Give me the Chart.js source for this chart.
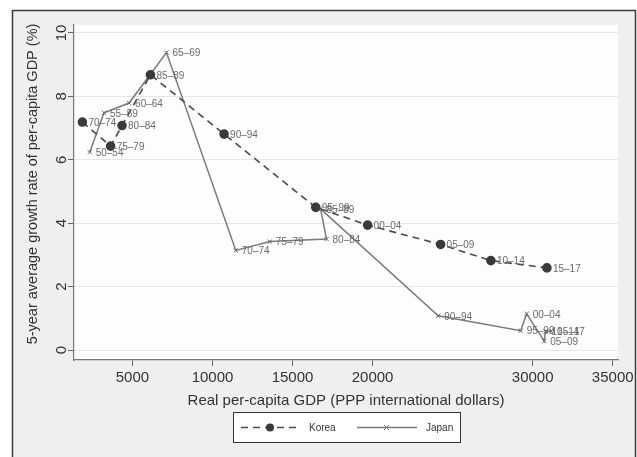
<!DOCTYPE html>
<html>
<head>
<meta charset="utf-8">
<script src="https://cdn.jsdelivr.net/npm/chart.js@4.4.1/dist/chart.umd.min.js"></script>
<style>
  html, body { margin: 0; padding: 0; background: #fff; }
  #wrap { width: 637px; height: 457px; position: relative; }
</style>
</head>
<body>
<div id="wrap"><canvas id="chart"></canvas></div>
<script>
// Korea: 5-year periods, real per-capita GDP, growth rate
const koreaPeriods = ["70–74", "75–79", "80–84", "85–89", "90–94", "95–99", "00–04", "05–09", "10–14", "15–17"];
const koreaGdp = [1875, 3640, 4350, 6125, 10725, 16450, 19690, 24250, 27390, 30890];
const koreaGrowth = [7.19, 6.43, 7.08, 8.68, 6.81, 4.50, 3.94, 3.33, 2.82, 2.59];

// Japan
const japanPeriods = ["50–54", "55–59", "60–64", "65–69", "70–74", "75–79", "80–84", "85–89", "90–94", "95–99", "00–04", "05–09", "10–14", "15–17"];
const japanGdp = [2330, 3225, 4790, 7125, 11455, 13580, 17125, 16750, 24100, 29250, 29625, 30725, 30800, 31150];
const japanGrowth = [6.24, 7.48, 7.79, 9.38, 3.14, 3.42, 3.50, 4.45, 1.08, 0.61, 1.14, 0.28, 0.59, 0.59];

// tick labels
const xTicks = [5000, 10000, 15000, 20000, 30000, 35000];
const yTicks = [0, 2, 4, 6, 8, 10];

const yTitle = "5-year average growth rate of per-capita GDP (%)";
const xTitle = "Real per-capita GDP (PPP international dollars)";

const FONT = "'Liberation Sans', Arial, Helvetica, sans-serif";

function toPoints(xs, ys) {
  return xs.map((x, i) => ({ x: x, y: ys[i] }));
}

// frame + plot background, like the stata graph region
const backgroundPlugin = {
  id: "background",
  beforeDraw(chart) {
    const ctx = chart.ctx;
    const a = chart.chartArea;
    ctx.save();
    ctx.fillStyle = "#ffffff";
    ctx.fillRect(0, 0, chart.width, chart.height);
    ctx.fillStyle = "#efefef";
    ctx.fillRect(12, 10, 624, chart.height);
    ctx.strokeStyle = "#3a3a3a";
    ctx.lineWidth = 1.5;
    ctx.strokeRect(12.5, 10.5, 623, chart.height + 10);
    ctx.fillStyle = "#fdfdfd";
    ctx.fillRect(a.left, a.top, a.right - a.left, a.bottom - a.top);
    ctx.restore();
  }
};

// period labels next to each marker
const pointLabelPlugin = {
  id: "pointLabels",
  afterDatasetsDraw(chart) {
    const ctx = chart.ctx;
    ctx.save();
    ctx.font = "10px " + FONT;
    ctx.fillStyle = "#6a6a6a";
    ctx.textAlign = "left";
    ctx.textBaseline = "middle";
    chart.data.datasets.forEach((ds, i) => {
      const meta = chart.getDatasetMeta(i);
      meta.data.forEach((pt, j) => {
        ctx.fillText(ds.periods[j], pt.x + 6, pt.y + 1);
      });
    });
    ctx.restore();
  }
};

// rotated y tick labels and y title (stata style)
const yAxisTextPlugin = {
  id: "yAxisText",
  afterDraw(chart) {
    const ctx = chart.ctx;
    const y = chart.scales.y;
    ctx.save();
    ctx.fillStyle = "#333";
    ctx.textAlign = "center";
    ctx.textBaseline = "middle";
    ctx.font = "15px " + FONT;
    yTicks.forEach(v => {
      ctx.save();
      ctx.translate(y.right - 12, y.getPixelForValue(v));
      ctx.rotate(-Math.PI / 2);
      ctx.fillText(String(v), 0, 0);
      ctx.restore();
    });
    ctx.font = "14.5px " + FONT;
    ctx.translate(33, 184);
    ctx.rotate(-Math.PI / 2);
    ctx.fillText(yTitle, 0, 0);
    ctx.restore();
  }
};

// boxed legend under the axis title
const legendPlugin = {
  id: "boxLegend",
  afterDraw(chart) {
    const ctx = chart.ctx;
    const bx = 233.5, by = 412.5, bw = 227, bh = 30;
    const cy = by + bh / 2;
    ctx.save();
    ctx.fillStyle = "#ffffff";
    ctx.fillRect(bx, by, bw, bh);
    ctx.strokeStyle = "#333";
    ctx.lineWidth = 1;
    ctx.strokeRect(bx, by, bw, bh);

    // Korea sample
    const k = chart.data.datasets[0];
    ctx.strokeStyle = k.borderColor;
    ctx.lineWidth = k.borderWidth;
    ctx.setLineDash(k.borderDash);
    ctx.beginPath();
    ctx.moveTo(241, cy);
    ctx.lineTo(300, cy);
    ctx.stroke();
    ctx.setLineDash([]);
    ctx.fillStyle = k.pointBackgroundColor;
    ctx.beginPath();
    ctx.arc(270, cy, 4, 0, Math.PI * 2);
    ctx.fill();

    // Japan sample
    const j = chart.data.datasets[1];
    ctx.strokeStyle = j.borderColor;
    ctx.lineWidth = j.borderWidth;
    ctx.beginPath();
    ctx.moveTo(357, cy);
    ctx.lineTo(417, cy);
    ctx.stroke();
    ctx.lineWidth = 1;
    ctx.beginPath();
    ctx.moveTo(384, cy - 2.5); ctx.lineTo(389, cy + 2.5);
    ctx.moveTo(389, cy - 2.5); ctx.lineTo(384, cy + 2.5);
    ctx.stroke();

    ctx.font = "10px " + FONT;
    ctx.fillStyle = "#333";
    ctx.textBaseline = "middle";
    ctx.textAlign = "left";
    ctx.fillText("Korea", 309, cy + 1);
    ctx.fillText("Japan", 426, cy + 1);
    ctx.restore();
  }
};

const ctx = document.getElementById("chart").getContext("2d");
new Chart(ctx, {
  type: "scatter",
  data: {
    datasets: [
      {
        label: "Korea",
        periods: koreaPeriods,
        data: toPoints(koreaGdp, koreaGrowth),
        showLine: true,
        borderColor: "#4a4a4a",
        borderWidth: 1.6,
        borderDash: [7, 5],
        pointStyle: "circle",
        pointRadius: 4,
        pointBackgroundColor: "#3a3a3a",
        pointBorderColor: "#3a3a3a",
        order: 1
      },
      {
        label: "Japan",
        periods: japanPeriods,
        data: toPoints(japanGdp, japanGrowth),
        showLine: true,
        borderColor: "#7a7a7a",
        borderWidth: 1.5,
        pointStyle: "crossRot",
        pointRadius: 3,
        pointBorderColor: "#666",
        pointBorderWidth: 1,
        order: 2
      }
    ]
  },
  options: {
    responsive: true,
    maintainAspectRatio: false,
    animation: false,
    layout: { padding: { left: 14, top: 25, right: 19, bottom: 47 } },
    plugins: {
      legend: { display: false },
      tooltip: { enabled: false }
    },
    scales: {
      x: {
        type: "linear",
        min: 1350,
        max: 35330,
        afterBuildTicks: (scale) => { scale.ticks = xTicks.map(v => ({ value: v })); },
        afterFit: (scale) => { scale.height = 50; },
        border: { display: true, color: "#777", width: 1.2 },
        grid: { drawOnChartArea: false, drawTicks: true, tickLength: 6, tickColor: "#666" },
        ticks: {
          font: { family: FONT, size: 15 },
          color: "#333",
          padding: 3,
          maxRotation: 0,
          callback: (v) => String(v)
        },
        title: {
          display: true,
          text: xTitle,
          font: { family: FONT, size: 15 },
          color: "#333",
          padding: { top: 0, bottom: 0 }
        }
      },
      y: {
        type: "linear",
        min: -0.314,
        max: 10.25,
        afterBuildTicks: (scale) => { scale.ticks = yTicks.map(v => ({ value: v })); },
        afterFit: (scale) => { scale.width = 60; },
        border: { display: true, color: "#777", width: 1.2 },
        grid: { color: "#e6e6e6", lineWidth: 1, drawTicks: true, tickLength: 6, tickColor: "#666" },
        ticks: {
          font: { family: FONT, size: 15 },
          color: "rgba(0,0,0,0)"
        }
      }
    }
  },
  plugins: [backgroundPlugin, pointLabelPlugin, yAxisTextPlugin, legendPlugin]
});
</script>
</body>
</html>
